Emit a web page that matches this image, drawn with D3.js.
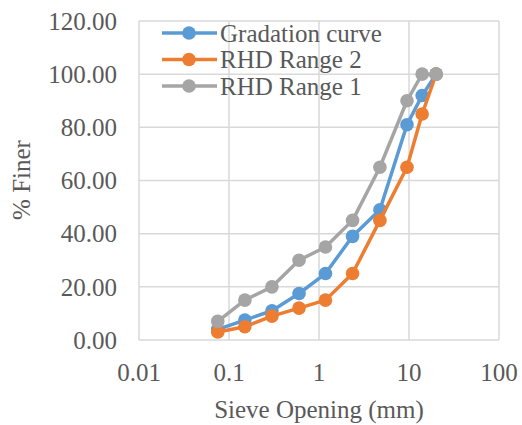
<!DOCTYPE html>
<html><head><meta charset="utf-8">
<script src="https://cdn.jsdelivr.net/npm/d3@7"></script>
<style>body{margin:0;background:#fff}svg{display:block}
svg text{font-family:'Liberation Serif','Tinos','Times New Roman','Times','Noto Serif','DejaVu Serif',serif;fill:#595959}</style>
</head><body><svg id="c" width="522" height="425"></svg>
<script>
const sieves = [0.075, 0.15, 0.3, 0.6, 1.18, 2.36, 4.75, 9.5, 14, 20];
const seriesNames = ["Gradation curve", "RHD Range 2", "RHD Range 1"];
const gradation = [4, 7.5, 11, 17.5, 25, 39, 49, 81, 92, 100];
const rhd2 = [3, 5, 9, 12, 15, 25, 45, 65, 85, 100];
const rhd1 = [7, 15, 20, 30, 35, 45, 65, 90, 100, 100];
const colors = ["#5B9BD5", "#ED7D31", "#A5A5A5"];
const xTicks = [0.01, 0.1, 1, 10, 100];
const yTicks = [0, 20, 40, 60, 80, 100, 120];

const svg = d3.select("#c");
const L = 139, R = 499, T = 21, B = 340;
const x = d3.scaleLog().domain([0.01, 100]).range([L, R]);
const y = d3.scaleLinear().domain([0, 120]).range([B, T]);

const g = svg.append("g");
g.selectAll(".hg").data(yTicks).join("line")
  .attr("x1", L).attr("x2", R).attr("y1", d => y(d)).attr("y2", d => y(d))
  .attr("stroke", "#d9d9d9").attr("stroke-width", 1.5);
g.selectAll(".vg").data(xTicks).join("line")
  .attr("y1", T).attr("y2", B).attr("x1", d => x(d)).attr("x2", d => x(d))
  .attr("stroke", "#d9d9d9").attr("stroke-width", 1.5);

g.selectAll(".yl").data(yTicks).join("text")
  .attr("x", 117).attr("y", d => y(d)).attr("dy", "0.35em")
  .attr("text-anchor", "end").attr("font-size", 25)
  .text(d => d.toFixed(2));
g.selectAll(".xl").data(xTicks).join("text")
  .attr("x", d => x(d)).attr("y", 381)
  .attr("text-anchor", "middle").attr("font-size", 25)
  .text(d => String(d));

svg.append("text")
  .attr("x", 319).attr("y", 418).attr("text-anchor", "middle")
  .attr("font-size", 25).text("Sieve Opening (mm)");
svg.append("text")
  .attr("transform", "translate(30,180) rotate(-90)")
  .attr("text-anchor", "middle").attr("font-size", 25).text("% Finer");

const data = [gradation, rhd2, rhd1];
const line = d3.line().x(d => x(d[0])).y(d => y(d[1]));
[0, 1, 2].forEach(i => {
  const pts = sieves.map((s, k) => [s, data[i][k]]);
  const sg = svg.append("g");
  sg.append("path").attr("d", line(pts)).attr("fill", "none")
    .attr("stroke", colors[i]).attr("stroke-width", 3.5).attr("stroke-linejoin", "round");
  sg.selectAll("circle").data(pts).join("circle")
    .attr("cx", d => x(d[0])).attr("cy", d => y(d[1])).attr("r", 6.8)
    .attr("fill", colors[i]);
});

const lg = svg.append("g");
seriesNames.forEach((n, i) => {
  const yy = 33 + i * 26.5;
  lg.append("line").attr("x1", 162).attr("x2", 217).attr("y1", yy).attr("y2", yy)
    .attr("stroke", colors[i]).attr("stroke-width", 3.5);
  lg.append("circle").attr("cx", 189).attr("cy", yy).attr("r", 6.8).attr("fill", colors[i]);
  lg.append("text")
    .attr("x", 220).attr("y", yy).attr("dy", "0.35em")
    .attr("font-size", 25).text(n);
});
</script></body></html>
